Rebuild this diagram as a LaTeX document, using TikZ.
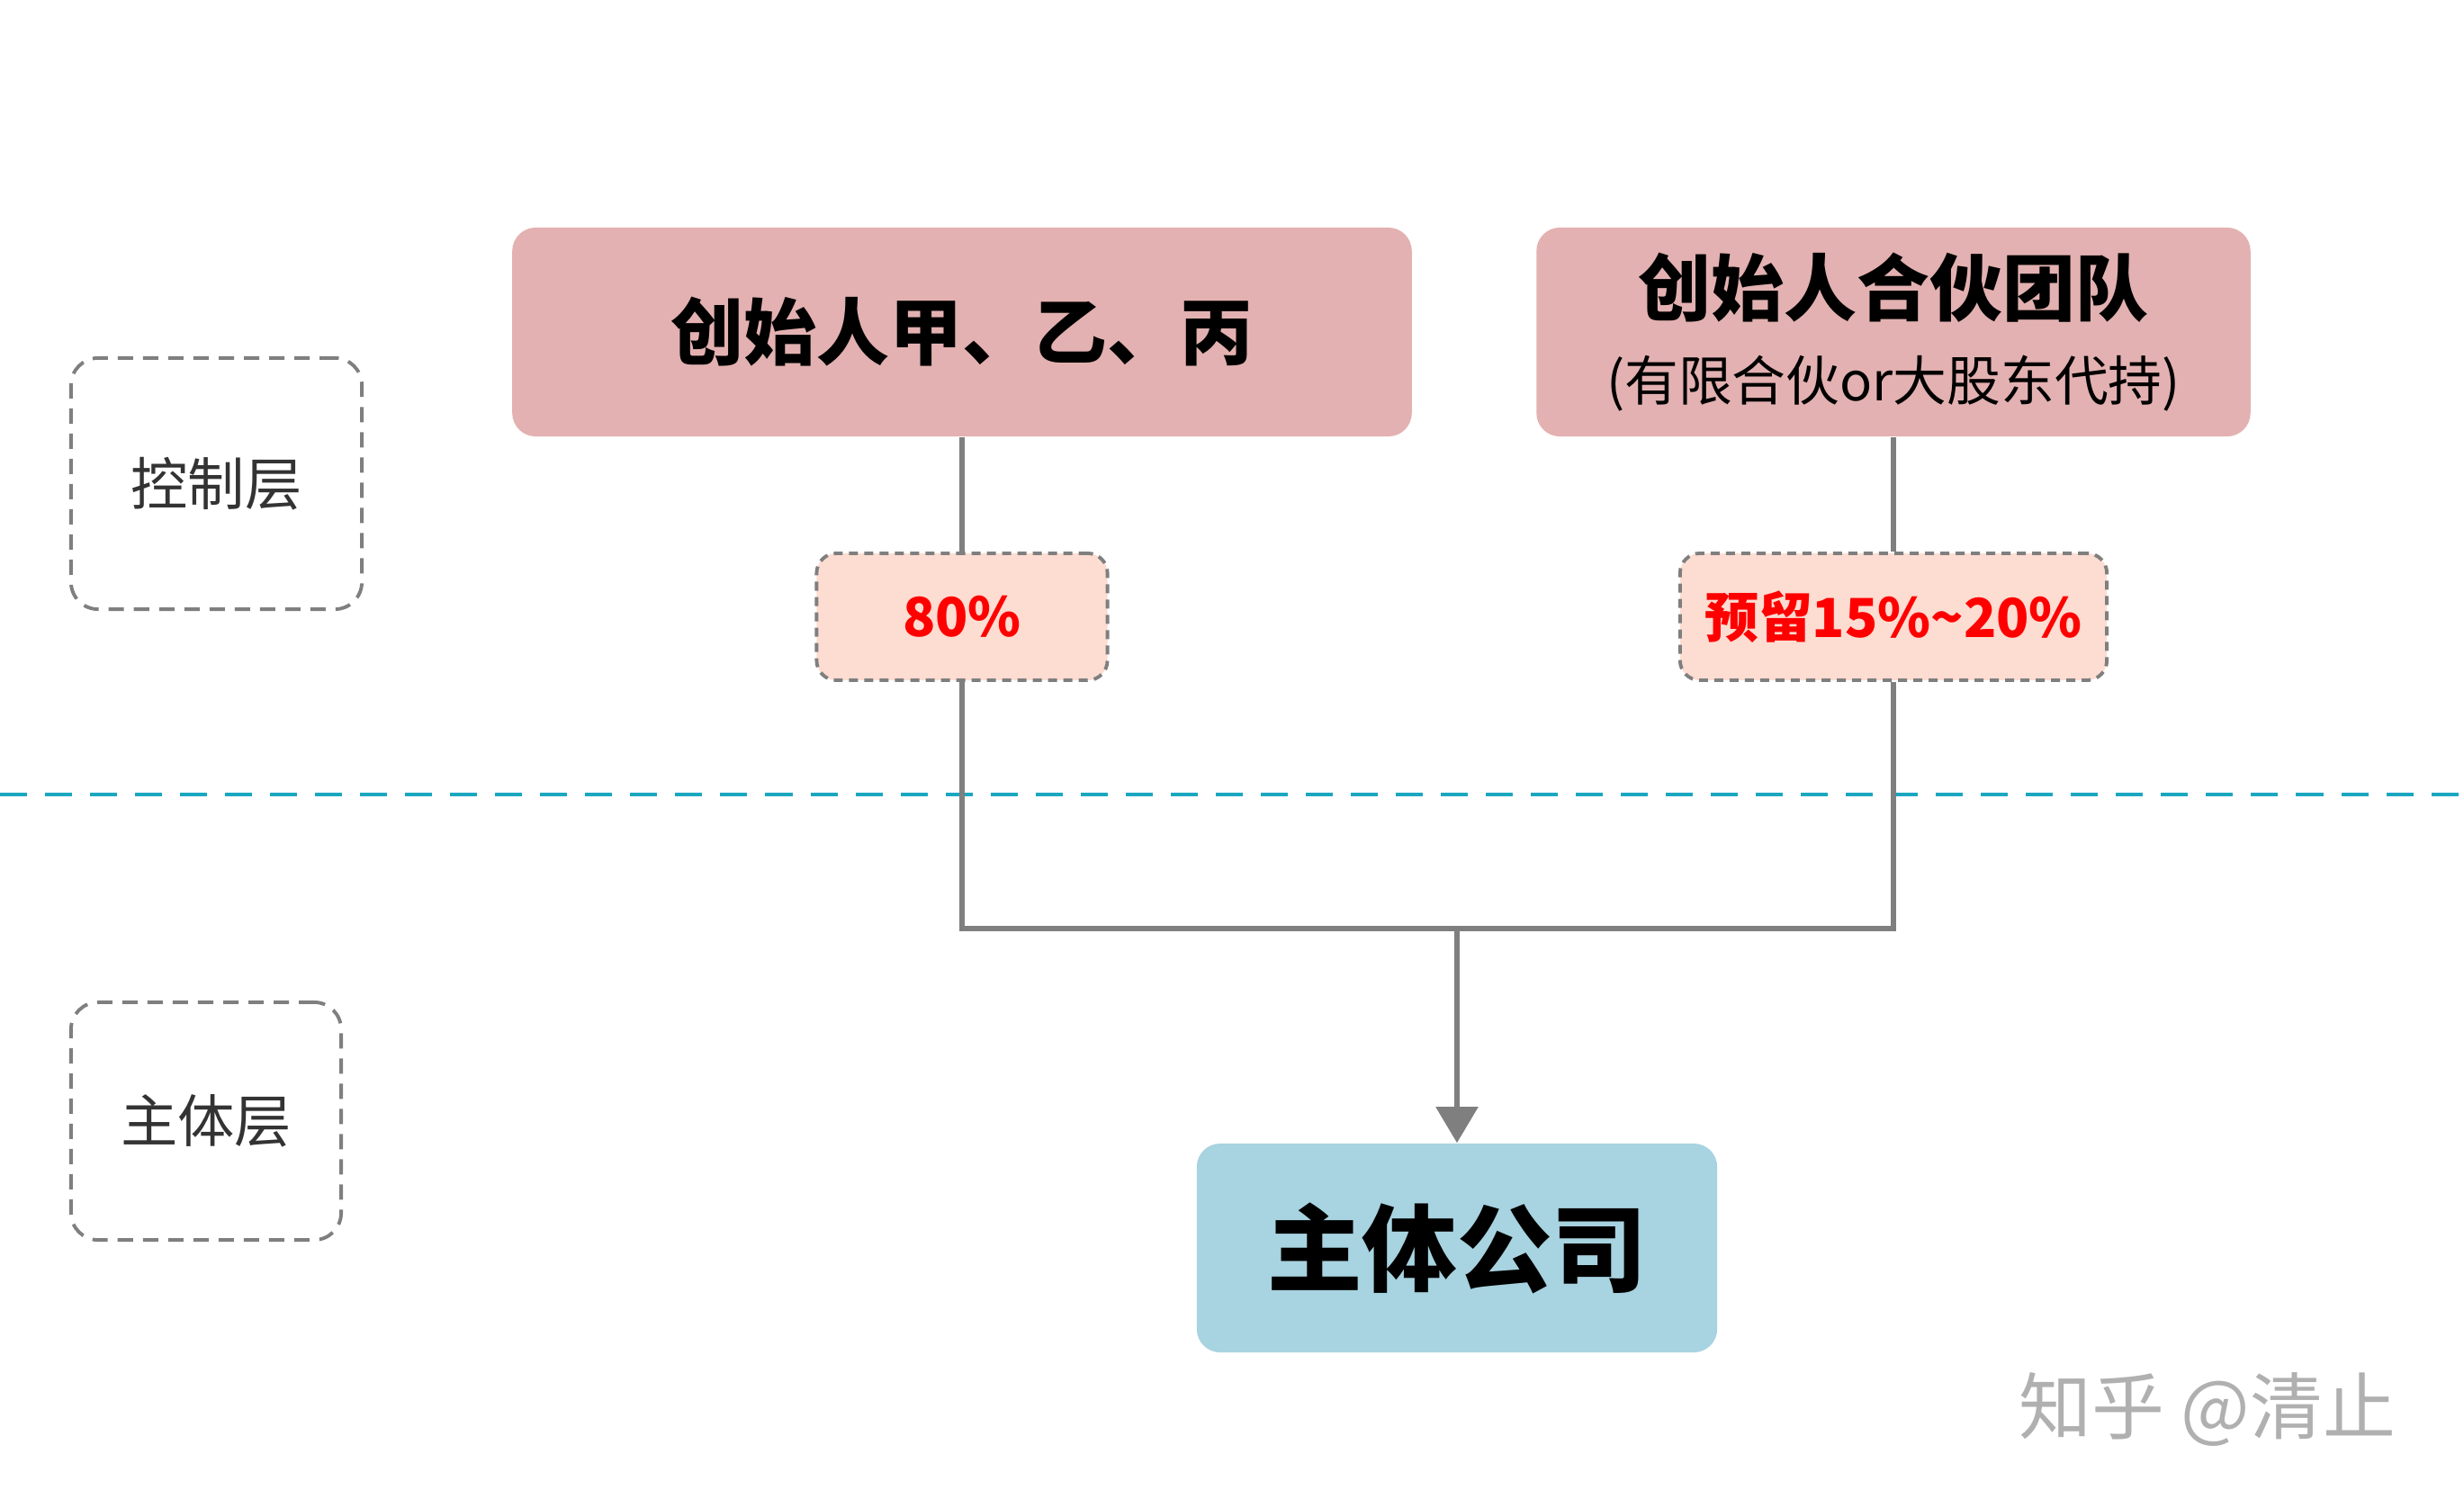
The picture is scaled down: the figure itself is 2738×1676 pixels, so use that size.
\documentclass[tikz,border=0pt]{standalone}
\usepackage{fontspec}
\setmainfont{Noto Sans CJK SC}
\usetikzlibrary{arrows.meta}
\definecolor{founderpink}{HTML}{E3B1B1}
\definecolor{sharepeach}{HTML}{FDDCD1}
\definecolor{firmblue}{HTML}{A8D3E0}
\definecolor{linkgray}{HTML}{7F7F7F}
\definecolor{layercyan}{HTML}{1AA7C0}
\definecolor{markgray}{HTML}{B0B0B0}
\begin{document}
\begin{tikzpicture}[x=0.01cm,y=-0.01cm,
	founder/.style={fill=founderpink,rounded corners=0.26cm,inner sep=0pt,minimum height=2.32cm,align=center},
	share/.style={fill=sharepeach,draw=linkgray,line width=1.1pt,dash pattern=on 0.1cm off 0.07cm,rounded corners=0.22cm,inner sep=0pt,minimum height=1.41cm,text=red,font=\fontsize{17}{20}\selectfont\bfseries},
	layer/.style={draw=linkgray,line width=1.1pt,dash pattern=on 0.17cm off 0.11cm,rounded corners=0.3cm,inner sep=0pt,text=black!80,font=\fontsize{18}{22}\selectfont},
	firm/.style={fill=firmblue,rounded corners=0.26cm,inner sep=0pt,minimum width=5.78cm,minimum height=2.32cm,font=\fontsize{30}{36}\selectfont\bfseries},
	link/.style={draw=linkgray,line width=1.6pt}]
		\useasboundingbox (0,0) rectangle (2738,1676);
		\draw [layercyan,line width=1pt,dash pattern=on 0.3cm off 0.2cm] (0,883) -- (2738,883);
		\node [founder,minimum width=9.99cm,font=\fontsize{23}{28}\selectfont\bfseries] (jyb) at (1069,369) {创始人甲、乙、丙};
		\node [founder,minimum width=7.93cm,font=\fontsize{17}{27}\selectfont] (team) at (2104,369) {{\fontsize{23}{27}\selectfont\bfseries 创始人合伙团队}\\(有限合伙or大股东代持)};
		\node [share,minimum width=3.23cm] (p80) at (1069,685.5) {80\%};
		\node [share,minimum width=4.74cm] (p15) at (2104,685.5) {预留15\%\textasciitilde20\%};
		\node [layer,minimum width=3.23cm,minimum height=2.79cm] (ctl) at (240.5,537.5) {控制层};
		\node [layer,minimum width=3.0cm,minimum height=2.64cm] (sub) at (229,1246) {主体层};
		\node [firm] (co) at (1619,1387) {主体公司};
		\coordinate (j) at (1619,1032);
		\draw [link] (jyb) -- (p80);
		\draw [link] (team) -- (p15);
		\draw [link] (p80.south) -- (p80.south |- j) -- (p15.south |- j) -- (p15.south);
		\draw [link,-{Triangle[width=0.46cm,length=0.4cm]}] (j) -- (co);
		\node [text=markgray,font=\fontsize{23}{28}\selectfont] (mark) at (2453,1566) {知乎 @清止};
	\end{tikzpicture}
\end{document}
